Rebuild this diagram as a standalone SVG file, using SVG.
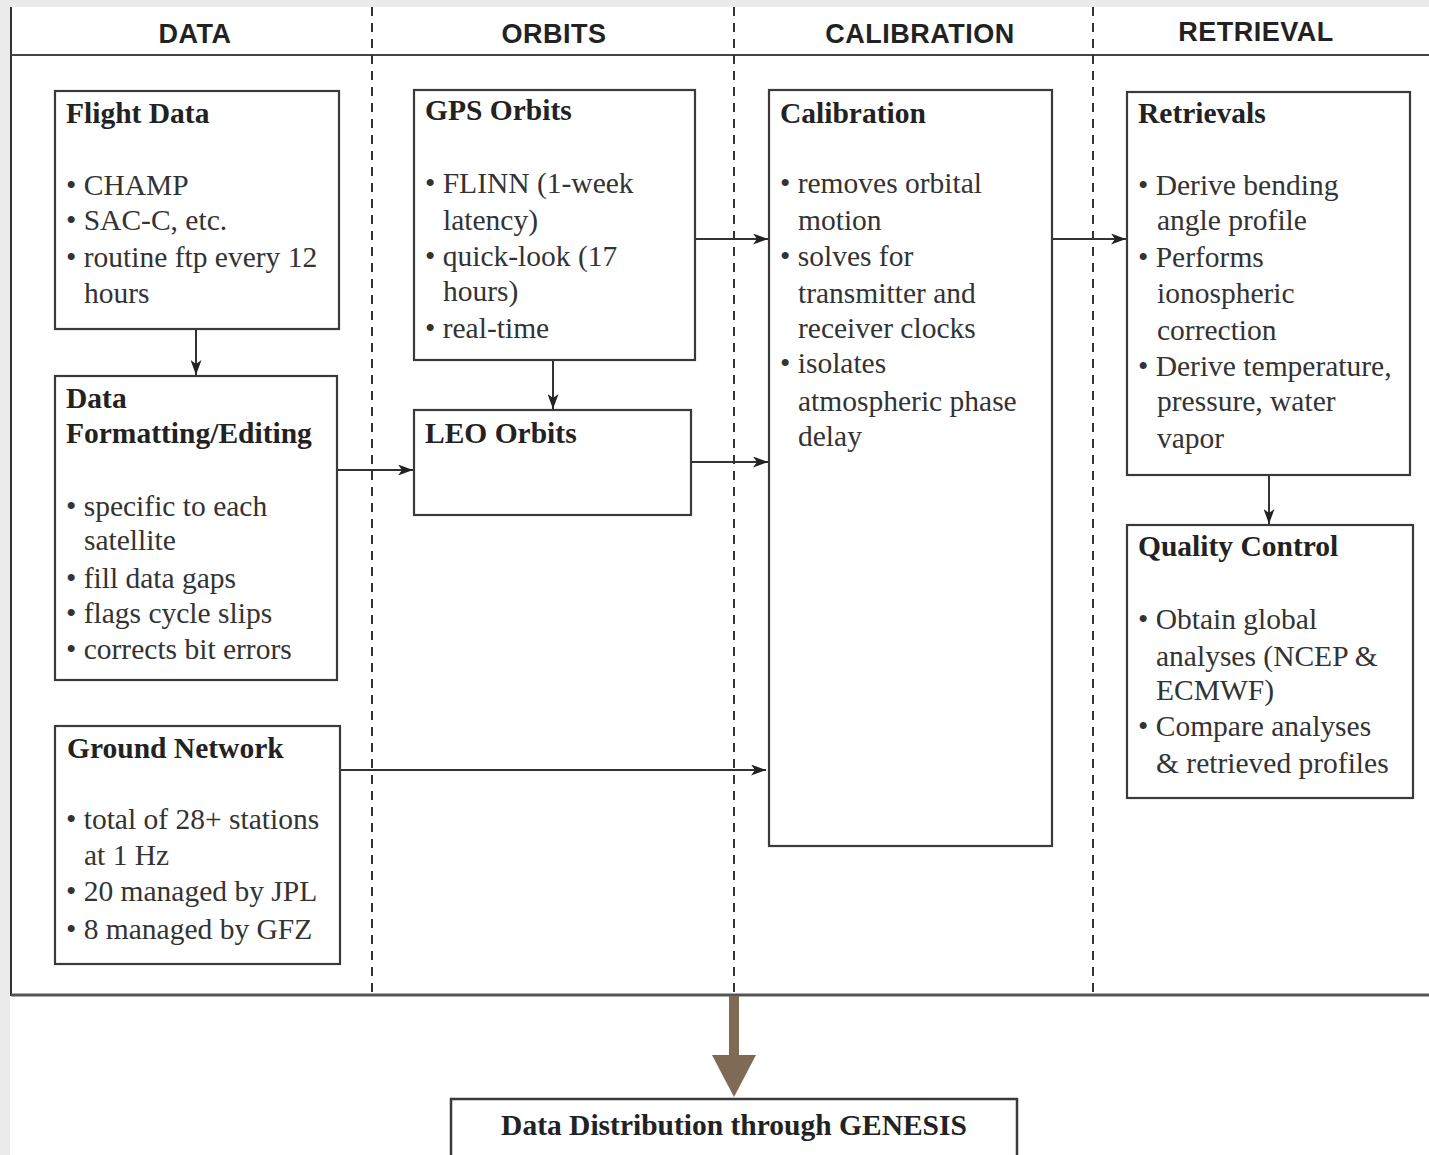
<svg xmlns="http://www.w3.org/2000/svg" width="1429" height="1155" viewBox="0 0 1429 1155">
<defs>
<style>
.hdr{font-family:"Liberation Sans",Arial,sans-serif;font-weight:bold;font-size:27px;fill:#222;text-anchor:middle;letter-spacing:0.5px}
.t{font-family:"Liberation Serif","Times New Roman",serif;font-size:29.5px;fill:#333}
.b{font-family:"Liberation Serif","Times New Roman",serif;font-size:29.5px;font-weight:bold;fill:#222}
.box{fill:#fff;stroke:#3a3a3a;stroke-width:2.2}
.dash{stroke:#333;stroke-width:2;stroke-dasharray:9 7;fill:none}
.conn{stroke:#333;stroke-width:2;fill:none;marker-end:url(#ah)}
</style>
<marker id="ah" viewBox="0 0 15 11" refX="15" refY="5.5" markerWidth="15" markerHeight="11" markerUnits="userSpaceOnUse" orient="auto">
<path d="M0,0 L15,5.5 L0,11 L4,5.5 Z" fill="#222"/>
</marker>
</defs>
<rect x="0" y="0" width="1429" height="1155" fill="#fff"/>
<rect x="0" y="0" width="1429" height="7" fill="#ebebeb"/>
<rect x="0" y="0" width="10" height="1155" fill="#ebebeb"/>

<g id="frame">
<line x1="11" y1="7" x2="11" y2="996" stroke="#333" stroke-width="2"/>
<line x1="11" y1="55" x2="1429" y2="55" stroke="#444" stroke-width="2.2"/>
<line x1="11" y1="995" x2="1429" y2="995" stroke="#555" stroke-width="3"/>
<line x1="372" y1="7" x2="372" y2="992" class="dash"/>
<line x1="734" y1="7" x2="734" y2="992" class="dash"/>
<line x1="1093" y1="7" x2="1093" y2="992" class="dash"/>
<text class="hdr" x="195" y="43">DATA</text>
<text class="hdr" x="554" y="43">ORBITS</text>
<text class="hdr" x="920" y="43">CALIBRATION</text>
<text class="hdr" x="1256" y="41">RETRIEVAL</text>
</g>

<g id="flight-data">
<rect class="box" x="55" y="91" width="284" height="238"/>
<text class="b" x="66" y="123">Flight Data</text>
<text class="t" x="66" y="195">• CHAMP</text>
<text class="t" x="66" y="230">• SAC-C, etc.</text>
<text class="t" x="66" y="267">• routine ftp every 12</text>
<text class="t" x="84" y="303">hours</text>
</g>

<g id="data-formatting">
<rect class="box" x="55" y="376" width="282" height="304"/>
<text class="b" x="66" y="408">Data</text>
<text class="b" x="66" y="443">Formatting/Editing</text>
<text class="t" x="66" y="516">• specific to each</text>
<text class="t" x="84" y="550">satellite</text>
<text class="t" x="66" y="588">• fill data gaps</text>
<text class="t" x="66" y="623">• flags cycle slips</text>
<text class="t" x="66" y="659">• corrects bit errors</text>
</g>

<g id="ground-network">
<rect class="box" x="55" y="726" width="285" height="238"/>
<text class="b" x="67" y="758">Ground Network</text>
<text class="t" x="66" y="829">• total of 28+ stations</text>
<text class="t" x="84" y="865">at 1 Hz</text>
<text class="t" x="66" y="901">• 20 managed by JPL</text>
<text class="t" x="66" y="939">• 8 managed by GFZ</text>
</g>

<g id="gps-orbits">
<rect class="box" x="414" y="90" width="281" height="270"/>
<text class="b" x="425" y="120">GPS Orbits</text>
<text class="t" x="425" y="193">• FLINN (1-week</text>
<text class="t" x="443" y="230">latency)</text>
<text class="t" x="425" y="266">• quick-look (17</text>
<text class="t" x="443" y="301">hours)</text>
<text class="t" x="425" y="338">• real-time</text>
</g>

<g id="leo-orbits">
<rect class="box" x="414" y="410" width="277" height="105"/>
<text class="b" x="425" y="443">LEO Orbits</text>
</g>

<g id="calibration">
<rect class="box" x="769" y="90" width="283" height="756"/>
<text class="b" x="780" y="123">Calibration</text>
<text class="t" x="780" y="193">• removes orbital</text>
<text class="t" x="798" y="230">motion</text>
<text class="t" x="780" y="266">• solves for</text>
<text class="t" x="798" y="303">transmitter and</text>
<text class="t" x="798" y="338">receiver clocks</text>
<text class="t" x="780" y="373">• isolates</text>
<text class="t" x="798" y="411">atmospheric phase</text>
<text class="t" x="798" y="446">delay</text>
</g>

<g id="retrievals">
<rect class="box" x="1127" y="92" width="283" height="383"/>
<text class="b" x="1138" y="123">Retrievals</text>
<text class="t" x="1138" y="195">• Derive bending</text>
<text class="t" x="1157" y="230">angle profile</text>
<text class="t" x="1138" y="267">• Performs</text>
<text class="t" x="1157" y="303">ionospheric</text>
<text class="t" x="1157" y="340">correction</text>
<text class="t" x="1138" y="376">• Derive temperature,</text>
<text class="t" x="1157" y="411">pressure, water</text>
<text class="t" x="1157" y="448">vapor</text>
</g>

<g id="quality-control">
<rect class="box" x="1127" y="525" width="286" height="273"/>
<text class="b" x="1138" y="556">Quality Control</text>
<text class="t" x="1138" y="629">• Obtain global</text>
<text class="t" x="1156" y="666">analyses (NCEP &amp;</text>
<text class="t" x="1156" y="700">ECMWF)</text>
<text class="t" x="1138" y="736">• Compare analyses</text>
<text class="t" x="1156" y="773">&amp; retrieved profiles</text>
</g>

<g id="genesis">
<rect x="451" y="1099" width="566" height="70" fill="#fff" stroke="#3a3a3a" stroke-width="2.5"/>
<text class="b" x="734" y="1135" text-anchor="middle" font-size="29px">Data Distribution through GENESIS</text>
</g>

<g id="connectors">
<line class="conn" x1="196" y1="330" x2="196" y2="375"/>
<line class="conn" x1="553" y1="361" x2="553" y2="409"/>
<line class="conn" x1="338" y1="470" x2="413" y2="470"/>
<line class="conn" x1="696" y1="239" x2="768" y2="239"/>
<line class="conn" x1="692" y1="462" x2="768" y2="462"/>
<line class="conn" x1="341" y1="770" x2="766" y2="770"/>
<line class="conn" x1="1053" y1="239" x2="1126" y2="239"/>
<line class="conn" x1="1269" y1="476" x2="1269" y2="524"/>
<g id="to-genesis">
<rect x="729" y="996" width="10" height="60" fill="#7f6a55"/>
<path d="M712,1055 L756,1055 L734,1097 Z" fill="#7f6a55"/>
</g>
</g>
</svg>
